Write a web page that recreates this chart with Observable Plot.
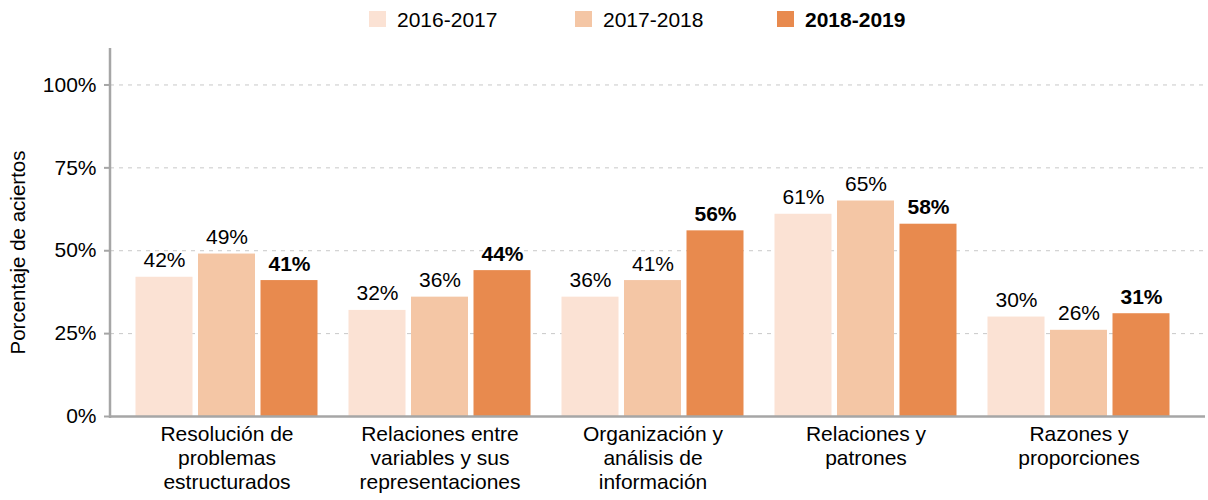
<!DOCTYPE html>
<html>
<head>
<meta charset="utf-8">
<script src="https://cdn.jsdelivr.net/npm/d3@7"></script>
<script src="https://cdn.jsdelivr.net/npm/@observablehq/plot@0.6"></script>
<style>
  html, body { margin: 0; padding: 0; background: #fff; }
  body { width: 1208px; height: 500px; overflow: hidden; font-family: "Liberation Sans", Arial, sans-serif; }
  #legend { height: 40px; position: relative; font-size: 21px; color: #000; }
  .item { position: absolute; top: 0; height: 39px; display: flex; align-items: center; }
  .sw { width: 17px; height: 16px; margin-right: 11px; margin-top: -1px; }
</style>
</head>
<body>
<div id="legend"></div>
<div id="chart"></div>
<script>
const categories = ["Resolución de problemas estructurados", "Relaciones entre variables y sus representaciones", "Organización y análisis de información", "Relaciones y patrones", "Razones y proporciones"];
const categoryLabels = ["Resolución de\nproblemas\nestructurados", "Relaciones entre\nvariables y sus\nrepresentaciones", "Organización y\nanálisis de\ninformación", "Relaciones y\npatrones", "Razones y\nproporciones"];
const years = ["2016-2017", "2017-2018", "2018-2019"];
const values2016 = [42, 32, 36, 61, 30];
const values2017 = [49, 36, 41, 65, 26];
const values2018 = [41, 44, 56, 58, 31];
const colors = ["#fbe2d4", "#f4c6a5", "#e88a4e"];
const yTicks = [0, 25, 50, 75, 100];
const yDomain = [0, 111];

const series = [values2016, values2017, values2018];
const data = [];
years.forEach((yr, i) => categories.forEach((c, j) => data.push({category: c, year: yr, value: series[i][j]})));

// legend
const legend = document.getElementById("legend");
const legendLeft = [369, 575, 777];
years.forEach((yr, i) => {
  const it = document.createElement("div");
  it.className = "item";
  it.style.left = legendLeft[i] + "px";
  it.innerHTML = `<div class="sw" style="background:${colors[i]}"></div><span style="font-weight:${i === 2 ? "bold" : "normal"}">${yr}</span>`;
  legend.appendChild(it);
});

const insets = [[15.5, 140.5], [78, 78], [140.5, 15.5]];
const offsets = [-62.5, 0, 62.5];
const FS = 21;

const marks = [
  Plot.gridY(yTicks.filter(d => d > 0), {stroke: "#c8c8c8", strokeOpacity: 1, strokeDasharray: "4,5"})
];
years.forEach((yr, i) => {
  const sub = data.filter(d => d.year === yr);
  marks.push(Plot.barY(sub, {x: "category", y: "value", fill: colors[i], insetLeft: insets[i][0], insetRight: insets[i][1]}));
  marks.push(Plot.text(sub, {x: "category", y: "value", text: d => d.value + "%", dx: offsets[i], dy: -10, lineAnchor: "bottom", fontSize: FS, fontWeight: i === 2 ? "bold" : "normal", fill: "#000"}));
});
marks.push(Plot.ruleY([0], {stroke: "#a6a6a6", strokeWidth: 2.5}));
// y axis line drawn through the y scale at the frame's left edge
marks.push((index, scales, values, dim) => {
  const line = document.createElementNS("http://www.w3.org/2000/svg", "line");
  line.setAttribute("x1", dim.marginLeft);
  line.setAttribute("x2", dim.marginLeft);
  line.setAttribute("y1", scales.y(yDomain[0]) + 2);
  line.setAttribute("y2", scales.y(yDomain[1]));
  line.setAttribute("stroke", "#a6a6a6");
  line.setAttribute("stroke-width", 2.5);
  return line;
});
marks.push(Plot.axisY({ticks: yTicks, tickFormat: d => d + "%", tickSize: 6, tickPadding: 8, stroke: "#a6a6a6", fill: "#000", strokeWidth: 2, fontSize: FS, label: null}));
marks.push(Plot.axisX({tickSize: 0, tickPadding: 7, fontSize: FS, lineHeight: 24 / FS, label: null, fill: "#000", tickFormat: d => categoryLabels[categories.indexOf(d)]}));
marks.push(Plot.text(["Porcentaje de aciertos"], {frameAnchor: "left", textAnchor: "middle", rotate: -90, dx: -92, dy: 20, fontSize: 20.5, fill: "#000"}));

const chart = Plot.plot({
  width: 1208,
  height: 460,
  marginLeft: 110,
  marginRight: 3,
  marginTop: 8,
  marginBottom: 84,
  style: {fontFamily: "'Liberation Sans', Arial, sans-serif", background: "#fff", color: "#000"},
  x: {type: "band", domain: categories, paddingInner: 0, paddingOuter: 0.0585, align: 0.34},
  y: {domain: yDomain},
  marks
});
document.getElementById("chart").appendChild(chart);
</script>
</body>
</html>
